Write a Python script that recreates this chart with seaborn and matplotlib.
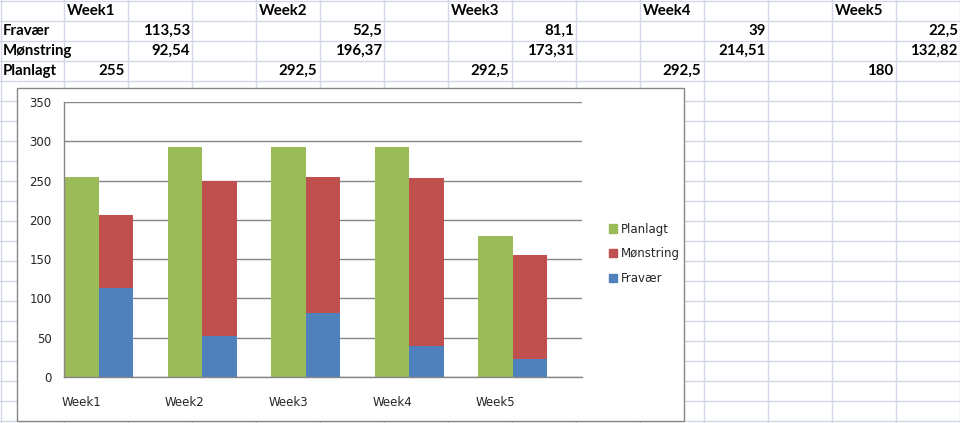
import matplotlib
matplotlib.use("Agg")
import matplotlib.pyplot as plt
import seaborn as sns
import pandas as pd
from matplotlib.lines import Line2D
from matplotlib.patches import Rectangle

weeks = ["Week1", "Week2", "Week3", "Week4", "Week5"]
fravaer = [113.53, 52.5, 81.1, 39, 22.5]
monstring = [92.54, 196.37, 173.31, 214.51, 132.82]
planlagt = [255, 292.5, 292.5, 292.5, 180]
fravaer_txt = ["113,53", "52,5", "81,1", "39", "22,5"]
monstring_txt = ["92,54", "196,37", "173,31", "214,51", "132,82"]
planlagt_txt = ["255", "292,5", "292,5", "292,5", "180"]
y_ticks = [0, 50, 100, 150, 200, 250, 300, 350]

GREEN, RED, BLUE = "#9BBB59", "#C0504D", "#4F81BD"
GRID = "#868686"
SHEET = "#D0D7E5"

W, H = 960, 423
sns.set_style("white")
plt.rcParams["font.family"] = ["DejaVu Sans"]
fig = plt.figure(figsize=(W / 100, H / 100), dpi=100)

def fx(px):
    return px / W

def fy(py):
    return 1 - py / H

# spreadsheet grid
for yy in range(1, H, 20):
    fig.add_artist(Line2D([0, 1], [fy(yy), fy(yy)], color=SHEET, lw=1, zorder=-3))
for xx in list(range(0, W, 64)) + [W - 0.5]:
    xv = max(xx, 0.5)
    fig.add_artist(Line2D([fx(xv), fx(xv)], [0, 1], color=SHEET, lw=1, zorder=-3))

# spreadsheet texts
tfont = dict(family=["Lato", "DejaVu Sans"], fontweight="bold", fontsize=10.8, color="black")
for lbl, yy in [("Fravær", 31), ("Mønstring", 51), ("Planlagt", 71)]:
    fig.text(fx(3), fy(yy), lbl, ha="left", va="center", **tfont)
for i, wk in enumerate(weeks):
    c0 = 64 + i * 192
    fig.text(fx(c0 + 3), fy(11), wk, ha="left", va="center", **tfont)
    fig.text(fx(c0 + 64 - 3), fy(71), planlagt_txt[i], ha="right", va="center", **tfont)
    fig.text(fx(c0 + 128 - 2), fy(31), fravaer_txt[i], ha="right", va="center", **tfont)
    fig.text(fx(c0 + 128 - 2), fy(51), monstring_txt[i], ha="right", va="center", **tfont)

# chart area
fig.add_artist(Rectangle((fx(17), fy(421)), fx(684 - 17), (421 - 88) / H,
                         transform=fig.transFigure, facecolor="white",
                         edgecolor=GRID, lw=1, zorder=-1))

ax = fig.add_axes([fx(64), fy(377), fx(582 - 64), (377 - 102) / H])
ax.set_facecolor("none")

slots = [f"s{i}" for i in range(15)]
plan_df = pd.DataFrame({"slot": [slots[3 * i] for i in range(5)], "v": planlagt})
stack_df = pd.DataFrame({"slot": [slots[3 * i + 1] for i in range(5)],
                         "tot": [a + b for a, b in zip(fravaer, monstring)],
                         "fr": fravaer})

sns.barplot(data=plan_df, x="slot", y="v", order=slots, color=GREEN, width=1.0,
            saturation=1, ax=ax, label="Planlagt", zorder=3)
sns.barplot(data=stack_df, x="slot", y="tot", order=slots, color=RED, width=1.0,
            saturation=1, ax=ax, label="Mønstring", zorder=3)
sns.barplot(data=stack_df, x="slot", y="fr", order=slots, color=BLUE, width=1.0,
            saturation=1, ax=ax, label="Fravær", zorder=3)
for p in ax.patches:
    p.set_linewidth(0)

ax.set_xlim(-0.5, 14.5)
ax.set_ylim(0, 350)
ax.set_yticks(y_ticks)
ax.set_yticklabels([str(t) for t in y_ticks])
ax.yaxis.grid(True, color=GRID, lw=1)
ax.set_axisbelow(True)
for s in ["top", "right"]:
    ax.spines[s].set_visible(False)
for s in ["left", "bottom"]:
    ax.spines[s].set_color(GRID)
    ax.spines[s].set_linewidth(1)
    ax.spines[s].set_zorder(4)

ax.set_xticks([i - 0.5 for i in range(16)])
ax.set_xticklabels([])
ax.set_xticks([3 * i for i in range(5)], minor=True)
ax.set_xticklabels(weeks, minor=True)
ax.tick_params(axis="x", which="major", direction="out", length=5, color=GRID, width=1)
ax.tick_params(axis="x", which="minor", length=0, pad=14, labelsize=8.5)
ax.tick_params(axis="y", direction="out", length=5, color=GRID, width=1, labelsize=8.5, pad=4)
ax.set_xlabel("")
ax.set_ylabel("")

handles = [Rectangle((0, 0), 1, 1, color=c) for c in (GREEN, RED, BLUE)]
fig.legend(handles, ["Planlagt", "Mønstring", "Fravær"], loc="center left",
           bbox_to_anchor=(fx(598), fy(254)), frameon=False, fontsize=8.5,
           handlelength=0.7, handleheight=0.7, handletextpad=0.3, labelspacing=1.0)
if ax.get_legend():
    ax.get_legend().remove()

fig.savefig("out.png", dpi=100)
